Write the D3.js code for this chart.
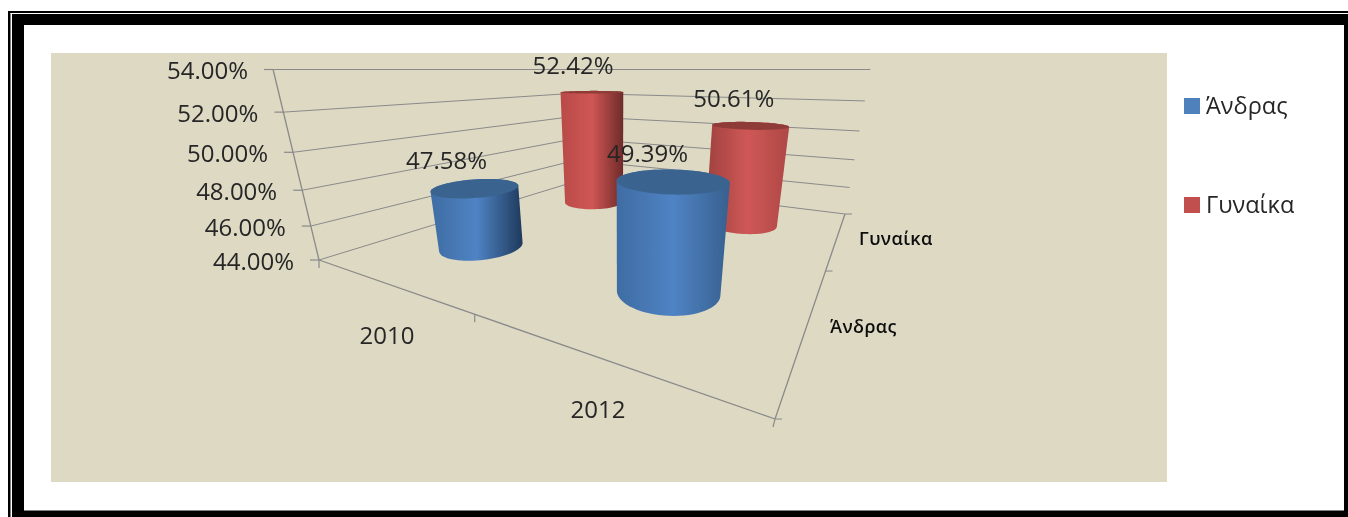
<!DOCTYPE html>
<html><head><meta charset="utf-8">
<script src="https://cdn.jsdelivr.net/npm/d3@7"></script>
<style>html,body{margin:0;padding:0;background:#fff}svg{display:block}text{font-family:"Open Sans",sans-serif;fill:#262626}</style>
</head><body><svg id="c" width="1348" height="517"></svg>
<script>
const categories = ["2010", "2012"];
const seriesNames = ["Άνδρας", "Γυναίκα"];
const maleValues = [47.58, 49.39];
const femaleValues = [52.42, 50.61];
const valueTicks = [44, 46, 48, 50, 52, 54];

const colors = {"Άνδρας": "#4F81BD", "Γυναίκα": "#C0504D"};
const tops = {"Άνδρας": "#3B6490", "Γυναίκα": "#8F3B39"};
const ramps = {
  "Άνδρας": [["#3F6CA3", "#4F83C4", "#1F3A5C"], ["#3F6CA3", "#4F83C4", "#37608F"]],
  "Γυναίκα": [["#B84B48", "#D05654", "#6E2B29"], ["#9E413F", "#CF5856", "#AE4846"]]
};

const svg = d3.select("#c");
const defs = svg.append("defs");
defs.append("filter").attr("id", "soft").append("feGaussianBlur").attr("stdDeviation", 0.45);

// frame
svg.append("rect").attr("x", 8).attr("y", 11).attr("width", 1340).attr("height", 506).attr("fill", "#000");
svg.append("rect").attr("x", 10.5).attr("y", 13).attr("width", 1338).attr("height", 1).attr("fill", "#fff");
svg.append("rect").attr("x", 10.5).attr("y", 13).attr("width", 1.5).attr("height", 504).attr("fill", "#fff");
svg.append("rect").attr("x", 24).attr("y", 25).attr("width", 1320).attr("height", 485.5).attr("fill", "#fff");
svg.append("rect").attr("x", 51).attr("y", 53).attr("width", 1116).attr("height", 429).attr("fill", "#DDD9C3");

// projection: floor homography + vertical perspective
const floorQuad = [[319, 260], [775, 419], [845, 214], [577, 181]];
const vanish = [619, 1505], horizon = 69.5;
const [[x0, y0], [x1, y1], [x2, y2], [x3, y3]] = floorQuad;
const sx = x0 - x1 + x2 - x3, sy = y0 - y1 + y2 - y3;
const dx1 = x1 - x2, dx2 = x3 - x2, dy1 = y1 - y2, dy2 = y3 - y2;
const den = dx1 * dy2 - dx2 * dy1;
const g = (sx * dy2 - dx2 * sy) / den, h = (dx1 * sy - sx * dy1) / den;
const a = x1 - x0 + g * x1, b = x3 - x0 + h * x3, d = y1 - y0 + g * y1, e = y3 - y0 + h * y3;
const zScale = d3.scaleLinear().domain(d3.extent(valueTicks)).range([0, 1]);
function project(u, v, val) {
  const w = g * u + h * v + 1;
  const fx = (a * u + b * v + x0) / w, fy = (d * u + e * v + y0) / w;
  const k = (vanish[1] - fy) / (vanish[1] - horizon);
  const s = 1 + (k - 1) * zScale(val);
  return [vanish[0] + (fx - vanish[0]) / s, vanish[1] + (fy - vanish[1]) / s];
}
const uScale = d3.scaleBand().domain(categories).range([0, 1]);
const vScale = d3.scaleBand().domain(seriesNames).range([0, 1]);
const line = d3.line();
const axisColor = "#8A8A8A";
const chart = svg.append("g").attr("filter", "url(#soft)");

// gridlines
const zMin = valueTicks[0];
valueTicks.forEach(t => {
  chart.append("path").attr("d", line([project(0, 0, t), project(0, 1, t), project(1, 1, t)]))
    .attr("fill", "none").attr("stroke", axisColor).attr("stroke-width", 1);
  const p = project(0, 0, t);
  chart.append("path").attr("d", line([[p[0] - 9, p[1]], p])).attr("stroke", axisColor).attr("stroke-width", 1.2);
  chart.append("text").attr("x", p[0] - 25).attr("y", p[1] + 1).attr("dy", "0.36em")
    .attr("text-anchor", "end").attr("font-size", 24).text(d3.format(".2f")(t) + "%");
});
// axes
[[project(0, 0, zMin), project(0, 0, 54)], [project(0, 0, zMin), project(1, 0, zMin)], [project(1, 0, zMin), project(1, 1, zMin)]]
  .forEach(s => chart.append("path").attr("d", line(s)).attr("stroke", axisColor).attr("stroke-width", 1.3).attr("fill", "none"));
// axis ticks
[0, 0.5, 1].forEach(u => {
  const p = project(u, 0, zMin);
  chart.append("path").attr("d", line([p, [p[0] - (u === 1 ? 2 : 0), p[1] + 8]])).attr("stroke", axisColor).attr("stroke-width", 1.2);
});
[0, 0.5, 1].forEach(v => {
  const p = project(1, v, zMin);
  chart.append("path").attr("d", line([p, [p[0] + 7, p[1]]])).attr("stroke", axisColor).attr("stroke-width", 1);
});

// cylinders
const radius = 0.098;
const angles = d3.range(0, 360, 5).map(deg => deg * Math.PI / 180);
const valuesBySeries = {"Άνδρας": maleValues, "Γυναίκα": femaleValues};
const drawOrder = [["Γυναίκα", 0], ["Γυναίκα", 1], ["Άνδρας", 0], ["Άνδρας", 1]];
const poly = pts => "M" + pts.map(p => p.join(",")).join("L") + "Z";
const labelOffset = {"Άνδρας": [-29, -25], "Γυναίκα": [-19, -16]};
const labels = [];
drawOrder.forEach(([name, ci], idx) => {
  const val = valuesBySeries[name][ci];
  const u = uScale(categories[ci]) + uScale.bandwidth() / 2;
  const v = vScale(name) + vScale.bandwidth() / 2;
  const ring = z => angles.map(t => project(u + radius * Math.cos(t), v + radius * Math.sin(t), z));
  const base = ring(zMin), top = ring(val);
  const hull = d3.polygonHull(base.concat(top));
  const xr = d3.extent(hull, p => p[0]);
  const id = "grad" + idx;
  const [c0, c1, c2] = ramps[name][ci];
  const grad = defs.append("linearGradient").attr("id", id).attr("gradientUnits", "userSpaceOnUse")
    .attr("x1", xr[0]).attr("x2", xr[1]).attr("y1", 0).attr("y2", 0);
  [[0, c0], [0.5, c1], [1, c2]].forEach(([o, c]) => grad.append("stop").attr("offset", o).attr("stop-color", c));
  chart.append("path").attr("d", poly(hull)).attr("fill", `url(#${id})`);
  chart.append("path").attr("d", poly(top)).attr("fill", tops[name]);
  const c = project(u, v, val);
  labels.push({x: c[0] + labelOffset[name][ci], y: c[1] - 27, t: d3.format(".2f")(val) + "%"});
});
labels.forEach(l => chart.append("text").attr("x", l.x).attr("y", l.y).attr("dy", "0.36em")
  .attr("text-anchor", "middle").attr("font-size", 24).text(l.t));

// category labels
chart.append("text").attr("x", 387).attr("y", 335).attr("dy", "0.36em").attr("text-anchor", "middle").attr("font-size", 24).text(categories[0]);
chart.append("text").attr("x", 598).attr("y", 409).attr("dy", "0.36em").attr("text-anchor", "middle").attr("font-size", 24).text(categories[1]);
chart.append("text").attr("x", 859).attr("y", 239).attr("dy", "0.36em").attr("font-size", 18).attr("font-weight", 600).attr("letter-spacing", 0.4).style("fill", "#111").text(seriesNames[1]);
chart.append("text").attr("x", 830).attr("y", 327).attr("dy", "0.36em").attr("font-size", 18).attr("font-weight", 600).attr("letter-spacing", 0.4).style("fill", "#111").text(seriesNames[0]);

// legend
const legendY = d3.scalePoint().domain(seriesNames).range([106, 205]);
seriesNames.forEach(n => {
  chart.append("rect").attr("x", 1184).attr("y", legendY(n) - 8).attr("width", 16).attr("height", 16).attr("fill", colors[n]);
  chart.append("text").attr("x", 1206).attr("y", legendY(n)).attr("dy", "0.36em").attr("font-size", 23.5).text(n);
});
</script></body></html>
